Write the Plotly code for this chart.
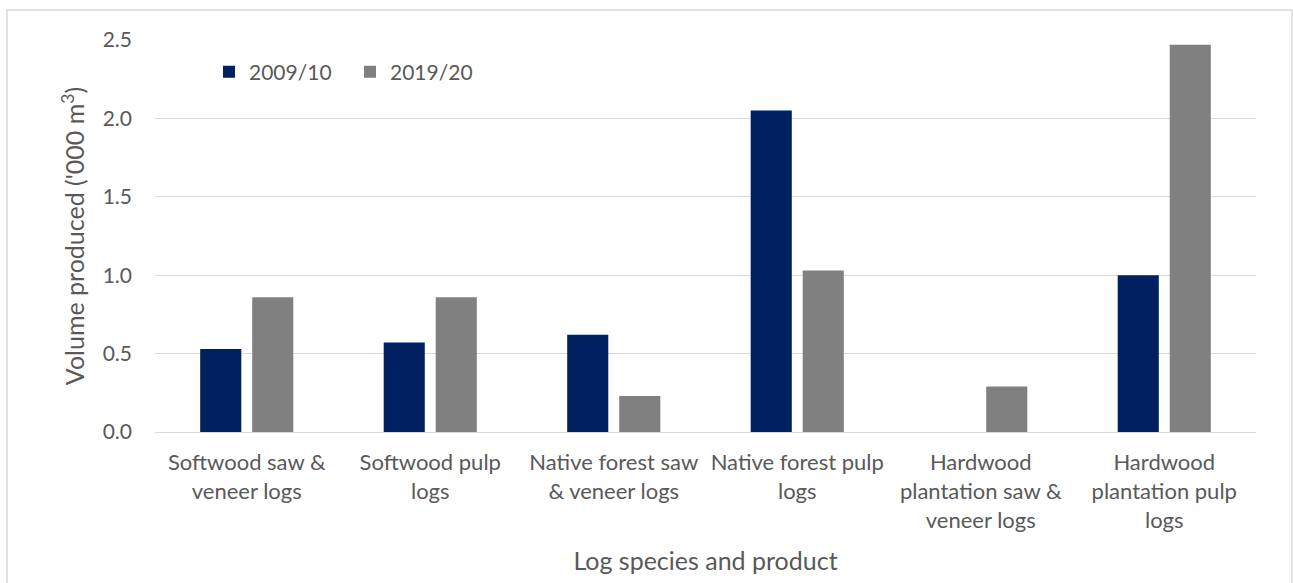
import plotly.graph_objects as go

categories = [
    "Softwood saw &<br>veneer logs",
    "Softwood pulp<br>logs",
    "Native forest saw<br>& veneer logs",
    "Native forest pulp<br>logs",
    "Hardwood<br>plantation saw &<br>veneer logs",
    "Hardwood<br>plantation pulp<br>logs",
]
vol_2009_10 = [0.53, 0.57, 0.62, 2.05, 0.0, 1.00]
vol_2019_20 = [0.86, 0.86, 0.23, 1.03, 0.29, 2.47]

FONT = "Lato"
TEXT = "#595959"
W, H = 1293, 583
L, R, T, B = 155, 37, 40, 151
pw, ph = W - L - R, H - T - B

def px(x):
    return (x - L) / pw

def py(y):
    return (H - B - y) / ph

fig = go.Figure()
fig.add_trace(go.Bar(name="2009/10", x=categories, y=vol_2009_10,
                     marker=dict(color="#002060", line=dict(width=0))))
fig.add_trace(go.Bar(name="2019/20", x=categories, y=vol_2019_20,
                     marker=dict(color="#808080", line=dict(width=0))))

fig.update_layout(
    width=W, height=H,
    margin=dict(l=L, r=R, t=T, b=B, autoexpand=False),
    paper_bgcolor="white", plot_bgcolor="white",
    font=dict(family=FONT, color=TEXT, size=21),
    barmode="group", bargap=0.433, bargroupgap=0.21,
    showlegend=True,
    legend=dict(orientation="h", x=px(209), y=py(72), xanchor="left", yanchor="middle",
                font=dict(size=21, color=TEXT), bgcolor="rgba(0,0,0,0)",
                itemwidth=30, entrywidth=96, entrywidthmode="pixels"),
    xaxis=dict(showgrid=False, showline=True, linecolor="#d9d9d9", linewidth=1,
               ticks="", tickfont=dict(size=22, color=TEXT),
               ticklabelstandoff=11,
               title=dict(text="Log species and product", font=dict(size=25, color=TEXT),
                          standoff=20)),
    yaxis=dict(range=[0, 2.5], dtick=0.5, tickformat=".1f",
               showgrid=True, gridcolor="#d9d9d9", gridwidth=1,
               zeroline=False, showline=False, ticks="",
               ticklabelstandoff=22,
               tickfont=dict(size=21, color=TEXT),
               title=dict(text="Volume produced ('000 m<sup>3</sup>)",
                          font=dict(size=25, color=TEXT), standoff=10)),
    shapes=[dict(type="rect", xref="paper", yref="paper",
                 x0=px(7), x1=px(1292), y0=py(10), y1=py(600),
                 line=dict(color="#d9d9d9", width=1.5), fillcolor="rgba(0,0,0,0)",
                 layer="below")],
)

fig.write_html("out.html")
